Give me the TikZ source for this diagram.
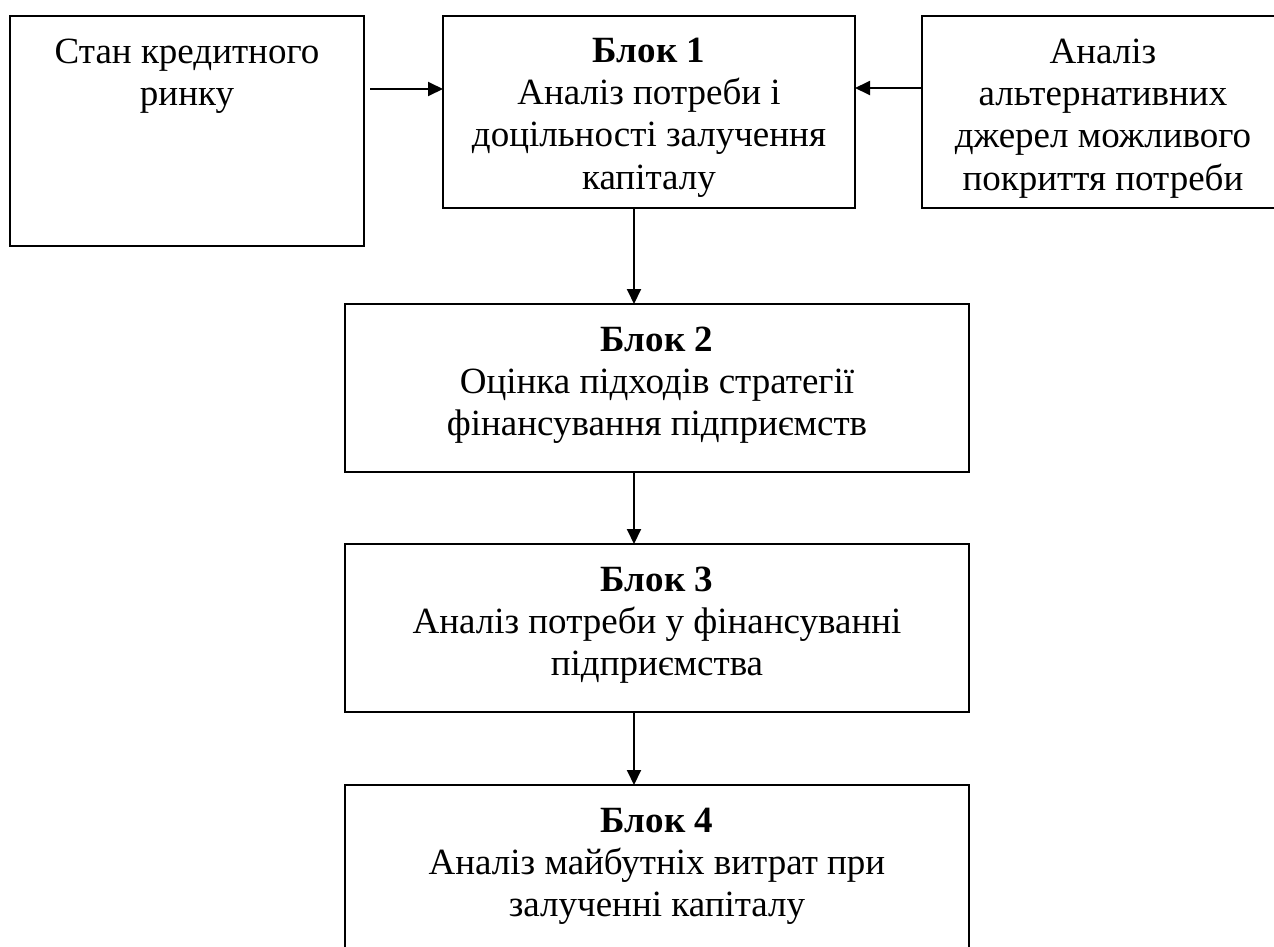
\documentclass[tikz,border=0pt]{standalone}
\usepackage{fontspec}
\setmainfont{Liberation Serif}
\usetikzlibrary{arrows.meta}
\newcommand\tstrut{\rule{0pt}{28pt}}
\begin{document}
\begin{tikzpicture}[x=1pt,y=-1pt,
  box/.style={draw, line width=1.9pt, rectangle, anchor=north west, inner sep=0pt, outer sep=0pt},
  txt/.style={anchor=north, align=center, inner sep=0pt, font=\fontsize{37}{42.3}\selectfont},
  arr/.style={line width=1.9pt, -{Triangle[length=15pt,width=14pt]}}]
\useasboundingbox (0,0) rectangle (1274,946);
% boxes
\node[box, minimum width=354, minimum height=230] (l) at (10,16) {};
\node[box, minimum width=412, minimum height=192] (b1) at (443,16) {};
\node[box, minimum width=362, minimum height=192] (r) at (922,16) {};
\node[box, minimum width=624, minimum height=168] (b2) at (345,304) {};
\node[box, minimum width=624, minimum height=168] (b3) at (345,544) {};
\node[box, minimum width=624, minimum height=220] (b4) at (345,785) {};
% texts
\node[txt] (tl) at (187,35) {\tstrut Стан кредитного\\ринку};
\node[txt] (tb1) at (649,34) {\tstrut\textbf{Блок 1}\\Аналіз потреби і\\доцільності залучення\\капіталу};
\node[txt] (tr) at (1103,35) {\tstrut Аналіз\\альтернативних\\джерел можливого\\покриття потреби};
\node[txt] (tb2) at (657,323) {\tstrut\textbf{Блок 2}\\Оцінка підходів стратегії\\фінансування підприємств};
\node[txt] (tb3) at (657,563) {\tstrut\textbf{Блок 3}\\Аналіз потреби у фінансуванні\\підприємства};
\node[txt] (tb4) at (657,804) {\tstrut\textbf{Блок 4}\\Аналіз майбутніх витрат при\\залученні капіталу};
% connectors
\coordinate (la) at (370,89);
\coordinate (ra) at (922,88);
\coordinate (ax) at (634,0);
\draw[arr] (la) -- (b1.west |- la);
\draw[arr] (ra) -- (b1.east |- ra);
\draw[arr] (b1.south -| ax) -- (b2.north -| ax);
\draw[arr] (b2.south -| ax) -- (b3.north -| ax);
\draw[arr] (b3.south -| ax) -- (b4.north -| ax);
\end{tikzpicture}
\end{document}
